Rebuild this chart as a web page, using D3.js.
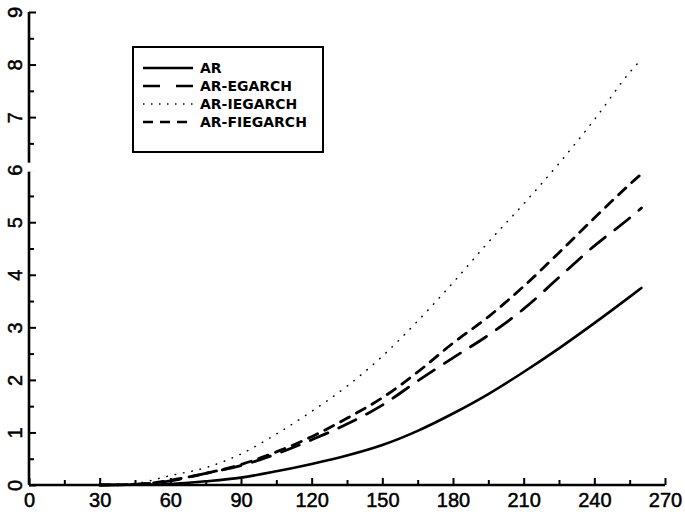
<!DOCTYPE html>
<html>
<head>
<meta charset="utf-8">
<script src="https://cdn.jsdelivr.net/npm/d3@7/dist/d3.min.js"></script>
<style>
  html, body { margin: 0; padding: 0; background: #fff; }
  svg { display: block; }
  .tick-label { font-family: "Liberation Sans", Arial, sans-serif; font-size: 20px; fill: #000; stroke: #000; stroke-width: 0.5px; }
  .legend-label { font-family: "DejaVu Sans", sans-serif; font-size: 14px; font-weight: bold; fill: #000; }
</style>
</head>
<body>
<svg id="chart" width="685" height="515"></svg>
<script>
// Forecast horizon (days)
const horizon = [30, 45, 60, 75, 90, 105, 120, 135, 150, 165, 180, 195, 210, 225, 240, 255, 260];

// Cumulative values per model
const seriesAR        = [0, 0.005, 0.02, 0.07, 0.14, 0.26, 0.40, 0.56, 0.76, 1.03, 1.36, 1.73, 2.15, 2.60, 3.08, 3.58, 3.75];
const seriesEGARCH    = [0, 0.01, 0.08, 0.22, 0.37, 0.59, 0.86, 1.16, 1.52, 1.98, 2.42, 2.85, 3.35, 3.95, 4.55, 5.08, 5.27];
const seriesIEGARCH   = [0, 0.03, 0.18, 0.33, 0.59, 0.97, 1.40, 1.88, 2.45, 3.12, 3.85, 4.62, 5.35, 6.12, 6.95, 7.85, 8.10];
const seriesFIEGARCH  = [0, 0.01, 0.09, 0.22, 0.39, 0.63, 0.92, 1.27, 1.66, 2.15, 2.70, 3.20, 3.78, 4.42, 5.08, 5.72, 5.92];

const seriesNames = ["AR", "AR-EGARCH", "AR-IEGARCH", "AR-FIEGARCH"];

// Axis ticks
const xMajorTicks = [0, 30, 60, 90, 120, 150, 180, 210, 240, 270];
const xMinorTicks = [15, 45, 75, 105, 135, 165, 195, 225, 255];
const yMajorTicks = [0, 1, 2, 3, 4, 5, 6, 7, 8, 9];
const yMinorTicks = [0.5, 1.5, 2.5, 3.5, 4.5, 5.5, 6.5, 7.5, 8.5];

const svg = d3.select("#chart");

const x = d3.scaleLinear().domain([0, 270]).range([29, 665]);
const y = d3.scaleLinear().domain([0, 9]).range([485, 12]);

// Line styles per series
const styles = [
  { width: 2.6, dash: null },
  { width: 2.8, dash: "19,12" },
  { width: 1.5, dash: "0.5,8" },
  { width: 2.8, dash: "10,8" }
];
const legendDash = [null, "17,16", "1.5,6.5", "10,7"];
const allSeries = [seriesAR, seriesEGARCH, seriesIEGARCH, seriesFIEGARCH];

const line = d3.line()
  .x(d => x(d[0]))
  .y(d => y(d[1]))
  .curve(d3.curveMonotoneX);

allSeries.forEach((vals, i) => {
  const pts = horizon.map((h, j) => [h, vals[j]]);
  svg.append("path")
    .datum(pts)
    .attr("d", line)
    .attr("fill", "none")
    .attr("stroke", "#000")
    .attr("stroke-width", styles[i].width)
    .attr("stroke-linecap", "round")
    .attr("stroke-dasharray", styles[i].dash);
});

// X axis: major ticks labelled, minor ticks between, all pointing into the plot
const xAxisMajor = d3.axisBottom(x).tickValues(xMajorTicks).tickSize(-7).tickFormat(d3.format("d")).tickPadding(8);
const xAxisMinor = d3.axisBottom(x).tickValues(xMinorTicks).tickSize(-5).tickFormat("");

const gx = svg.append("g").attr("transform", `translate(0,${y(0)})`).call(xAxisMajor);
svg.append("g").attr("transform", `translate(0,${y(0)})`).call(xAxisMinor).select(".domain").remove();
gx.select(".domain").attr("d", `M${x(0)},0H${x(270)}`).attr("stroke-width", 2.6);
gx.selectAll(".tick text").attr("class", "tick-label");

// Y axis: labels rotated to read upward
const yAxisMajor = d3.axisLeft(y).tickValues(yMajorTicks).tickSize(-7).tickFormat(d3.format("d"));
const yAxisMinor = d3.axisLeft(y).tickValues(yMinorTicks).tickSize(-5).tickFormat("");

const gy = svg.append("g").attr("transform", `translate(${x(0)},0)`).call(yAxisMajor);
svg.append("g").attr("transform", `translate(${x(0)},0)`).call(yAxisMinor).select(".domain").remove();
gy.select(".domain").attr("d", `M0,${y(0)}V${y(9)}`).attr("stroke-width", 2.6);
gy.selectAll(".tick text")
  .attr("class", "tick-label")
  .attr("x", null)
  .attr("text-anchor", "middle")
  .attr("transform", "translate(-14,0) rotate(-90)")
  .attr("dy", "0.36em");

svg.selectAll(".tick line").attr("stroke-width", 2);

// Break in the vertical axis near 6
svg.append("rect")
  .attr("x", x(0) - 3).attr("y", y(6) - 7)
  .attr("width", 12).attr("height", 9)
  .attr("fill", "#fff");

// Legend
const legend = svg.append("g");
legend.append("rect")
  .attr("x", 133).attr("y", 47)
  .attr("width", 190).attr("height", 105)
  .attr("fill", "#fff").attr("stroke", "#000").attr("stroke-width", 2);

seriesNames.forEach((name, i) => {
  const ly = 68 + i * 18;
  legend.append("line")
    .attr("x1", 143).attr("x2", 193)
    .attr("y1", ly).attr("y2", ly)
    .attr("stroke", "#000")
    .attr("stroke-width", i === 2 ? 1.5 : 2.6)
    .attr("stroke-dasharray", legendDash[i]);
  legend.append("text")
    .attr("class", "legend-label")
    .attr("x", 200).attr("y", ly)
    .attr("dy", "0.36em")
    .text(name);
});
</script>
</body>
</html>
